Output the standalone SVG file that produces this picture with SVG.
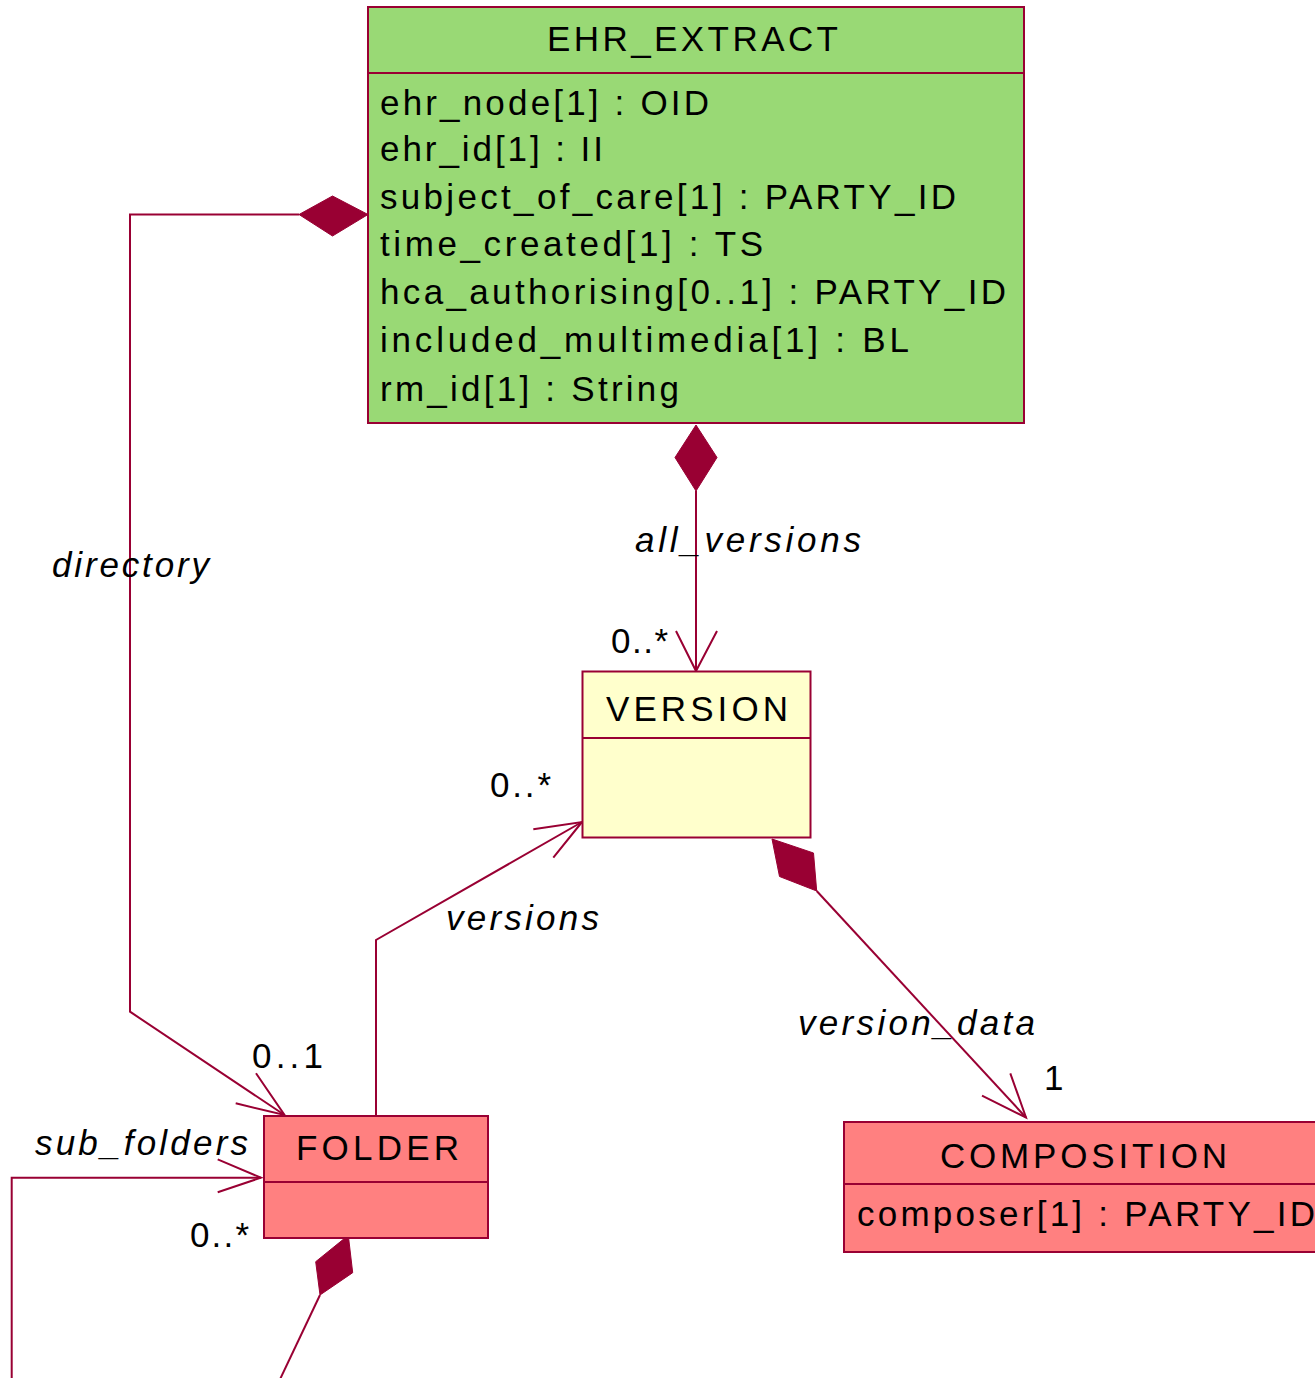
<svg xmlns="http://www.w3.org/2000/svg" width="1315" height="1378" viewBox="0 0 1315 1378">
  <style>
    .box { stroke: #990033; stroke-width: 2; }
    .ehr { fill: #99D975; }
    .ver { fill: #FFFFCC; }
    .pink { fill: #FF8080; }
    .sep { stroke: #990033; stroke-width: 2; fill: none; }
    text { font-family: "Liberation Sans", Arial, sans-serif; font-size: 35px; fill: #000; }
    .lbl { font-style: italic; }
    .line { stroke: #990033; stroke-width: 2; fill: none; }
    .head { stroke: #990033; stroke-width: 2; fill: none; }
    .dia { fill: #990033; stroke: #990033; stroke-width: 1; }
  </style>

  <!-- associations -->
  <g id="connectors">
    <!-- directory -->
    <polygon class="dia" points="299,214.5 332.5,196 368,214.5 332.5,236"/>
    <path class="line" d="M299,214.5 H130 V1011.7 L284.5,1115"/>
    <path class="head" d="M256,1073.3 L284.5,1115 L235.7,1103.3"/>

    <!-- all_versions -->
    <polygon class="dia" points="696,425 717,457.5 696,491 675,457.5"/>
    <path class="line" d="M696,491 V671"/>
    <path class="head" d="M676,631 L696,671 L717,631"/>

    <!-- versions -->
    <path class="line" d="M376,1116 V940 L582,822"/>
    <path class="head" d="M533.3,829.3 L582,822 L553.3,857.7"/>

    <!-- version_data -->
    <polygon class="dia" points="772,839 813.5,853 816.7,891 779.5,876.5"/>
    <path class="line" d="M816.7,891 L1026,1117.5"/>
    <path class="head" d="M1010.3,1073.3 L1026,1117.5 L982,1095.7"/>

    <!-- sub_folders (self association) -->
    <polygon class="dia" points="348.3,1235.3 352.7,1272.7 320,1295 315.7,1261.7"/>
    <path class="line" d="M320,1295 L274,1392"/>
    <path class="line" d="M11.7,1392 V1177.7 H261"/>
    <path class="head" d="M217.7,1159.3 L261,1177.7 L217.7,1192.3"/>

    <!-- role names and multiplicities -->
    <text class="lbl" x="52" y="577" textLength="157" lengthAdjust="spacing">directory</text>
    <text class="lbl" x="635" y="552" textLength="226" lengthAdjust="spacing">all_versions</text>
    <text x="611" y="653" textLength="57" lengthAdjust="spacing">0..*</text>
    <text x="490" y="797" textLength="61" lengthAdjust="spacing">0..*</text>
    <text class="lbl" x="446" y="930" textLength="153" lengthAdjust="spacing">versions</text>
    <text class="lbl" x="798" y="1035" textLength="237" lengthAdjust="spacing">version_data</text>
    <text x="1044" y="1090">1</text>
    <text x="252" y="1068" textLength="71" lengthAdjust="spacing">0..1</text>
    <text class="lbl" x="35" y="1155" textLength="213" lengthAdjust="spacing">sub_folders</text>
    <text x="190" y="1247" textLength="59" lengthAdjust="spacing">0..*</text>
  </g>

  <!-- EHR_EXTRACT class -->
  <g id="ehr_extract">
    <rect class="box ehr" x="368" y="7" width="656" height="416"/>
    <line class="sep" x1="368" y1="73" x2="1024" y2="73"/>
    <text x="547" y="51" textLength="291" lengthAdjust="spacing">EHR_EXTRACT</text>
    <text x="380" y="114.5" textLength="329" lengthAdjust="spacing">ehr_node[1] : OID</text>
    <text x="380" y="161" textLength="223" lengthAdjust="spacing">ehr_id[1] : II</text>
    <text x="380" y="208.5" textLength="576" lengthAdjust="spacing">subject_of_care[1] : PARTY_ID</text>
    <text x="380" y="256" textLength="383" lengthAdjust="spacing">time_created[1] : TS</text>
    <text x="380" y="303.5" textLength="626" lengthAdjust="spacing">hca_authorising[0..1] : PARTY_ID</text>
    <text x="380" y="352" textLength="529" lengthAdjust="spacing">included_multimedia[1] : BL</text>
    <text x="380" y="401" textLength="299" lengthAdjust="spacing">rm_id[1] : String</text>
  </g>

  <!-- VERSION class -->
  <g id="version">
    <rect class="box ver" x="582.5" y="671.5" width="228" height="166"/>
    <line class="sep" x1="582.5" y1="738" x2="810.5" y2="738"/>
    <text x="606" y="721" textLength="182" lengthAdjust="spacing">VERSION</text>
  </g>

  <!-- FOLDER class -->
  <g id="folder">
    <rect class="box pink" x="264" y="1116" width="224" height="122"/>
    <line class="sep" x1="264" y1="1182" x2="488" y2="1182"/>
    <text x="296" y="1160" textLength="163" lengthAdjust="spacing">FOLDER</text>
  </g>

  <!-- COMPOSITION class -->
  <g id="composition">
    <rect class="box pink" x="844" y="1122" width="480" height="130"/>
    <line class="sep" x1="844" y1="1184" x2="1324" y2="1184"/>
    <text x="940" y="1168" textLength="287" lengthAdjust="spacing">COMPOSITION</text>
    <text x="857" y="1226" textLength="458" lengthAdjust="spacing">composer[1] : PARTY_ID</text>
  </g>
</svg>
